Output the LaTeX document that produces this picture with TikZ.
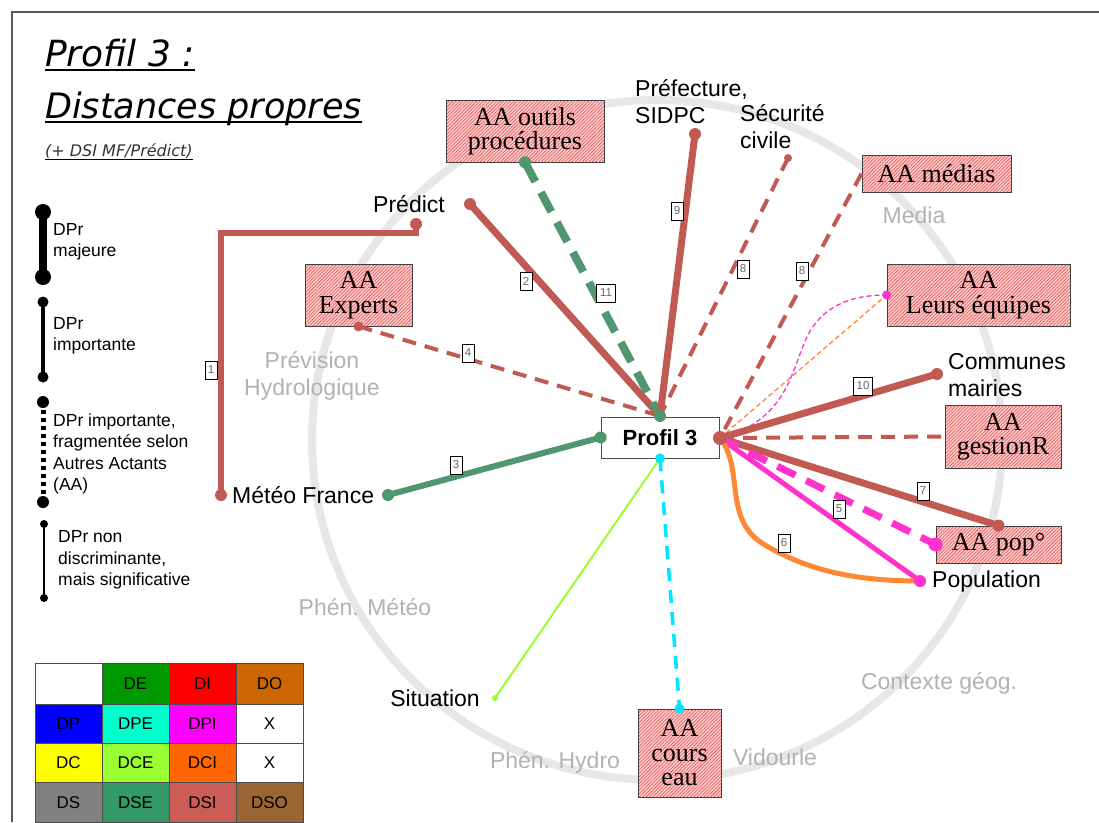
\documentclass[tikz,border=0pt]{standalone}
\usepackage{fontspec}
\setmainfont{Liberation Sans}
\newfontfamily\aaserif{Liberation Serif}
\newfontfamily\titlefont{DejaVu Sans}
\usetikzlibrary{patterns.meta}
\definecolor{dsi}{RGB}{193,90,83}
\definecolor{dse}{RGB}{80,150,110}
\definecolor{pinkl}{RGB}{255,51,204}
\definecolor{orangel}{RGB}{255,136,51}
\definecolor{cyanl}{RGB}{0,230,255}
\definecolor{ygl}{RGB}{153,255,51}
\definecolor{ring}{RGB}{231,231,231}
\definecolor{graytxt}{RGB}{178,178,178}
\definecolor{hatchbg}{RGB}{255,205,205}
\definecolor{hatchln}{RGB}{225,70,70}
\definecolor{cDE}{RGB}{0,153,0}
\definecolor{cDI}{RGB}{255,0,0}
\definecolor{cDO}{RGB}{204,102,0}
\definecolor{cDP}{RGB}{0,0,255}
\definecolor{cDPE}{RGB}{0,255,204}
\definecolor{cDPI}{RGB}{255,0,255}
\definecolor{cDC}{RGB}{255,255,0}
\definecolor{cDCE}{RGB}{153,255,51}
\definecolor{cDCI}{RGB}{255,102,0}
\definecolor{cDS}{RGB}{128,128,128}
\definecolor{cDSE}{RGB}{51,153,102}
\definecolor{cDSI}{RGB}{204,92,86}
\definecolor{cDSO}{RGB}{153,102,51}
\begin{document}
\begin{tikzpicture}[x=1pt,y=-1pt,
  hatch/.style={draw=black!75, line width=0.8, preaction={fill=hatchbg},
    pattern={Lines[angle=45,distance=2.4pt,line width=0.55pt]}, pattern color=hatchln,
    font={\aaserif\fontsize{26}{24.5}\selectfont}, align=center, inner sep=0},
  lbl/.style={font={\fontsize{23}{27}\selectfont}, inner sep=0, align=left},
  glbl/.style={font={\fontsize{23}{27}\selectfont}, inner sep=0, align=center, text=graytxt},
  leg/.style={font={\fontsize{17.5}{21.5}\selectfont}, inner sep=0, align=left, anchor=west},
  lab/.style={draw=black, line width=0.6, fill=white, font={\fontsize{11.5}{11.5}\selectfont},
    text=black!60, inner sep=1.5, minimum width=12, minimum height=18},
  cell/.style={draw=black!70, line width=1, minimum width=67, font={\fontsize{17}{17}\selectfont}, inner sep=0},
  sthick/.style={line width=7, line cap=round},
  sdash/.style={line width=4, dash pattern=on 14 off 9},
  tdash/.style={line width=1.3, dash pattern=on 5 off 3},
]
\useasboundingbox (0,0) rectangle (1099,822);
\fill[white] (0,0) rectangle (1099,822);
\draw[black!65, line width=1.5] (12,822) -- (12,12) -- (1099,12);

% ring
\draw[ring, line width=8] (657,440) ellipse [x radius=345, y radius=340];

% title
\node[anchor=base west, inner sep=0, font={\titlefont\itshape\fontsize{36}{36}\selectfont}] (t1) at (45,66) {Profil 3 :};
\node[anchor=base west, inner sep=0, font={\titlefont\itshape\fontsize{35}{35}\selectfont}] (t2) at (45,118) {Distances propres};
\node[anchor=base west, inner sep=0, font={\titlefont\itshape\fontsize{16}{16}\selectfont}, text=black!80] (t3) at (45,156) {(+ DSI MF/Prédict)};
\draw[line width=1.6] ([yshift=-4pt]t1.base west) -- ([yshift=-4pt]t1.base east);
\draw[line width=1.6] ([yshift=-4pt]t2.base west) -- ([yshift=-4pt]t2.base east);
\draw[line width=0.8] ([yshift=-3pt]t3.base west) -- ([yshift=-3pt]t3.base east);

% legend
\coordinate (lm1) at (43,212); \coordinate (lm2) at (43,277);
\coordinate (li1) at (43,302); \coordinate (li2) at (43,377);
\coordinate (lf1) at (43,402); \coordinate (lf2) at (43,502);
\coordinate (ln1) at (44,524); \coordinate (ln2) at (44,598);
\draw[line width=8] (lm1) -- (lm2);
\fill (lm1) circle[radius=8]; \fill (lm2) circle[radius=8];
\draw[line width=4] (li1) -- (li2);
\fill (li1) circle[radius=5.5]; \fill (li2) circle[radius=5.5];
\draw[line width=5, dash pattern=on 4 off 4] (lf1) -- (lf2);
\fill (lf1) circle[radius=6]; \fill (lf2) circle[radius=6];
\draw[line width=2.5] (ln1) -- (ln2);
\fill (ln1) circle[radius=4]; \fill (ln2) circle[radius=4];
\node[leg] (legm) at (53,242) {DPr\\majeure};
\node[leg] (legi) at (53,336) {DPr\\importante};
\node[leg] (legf) at (53,454) {DPr importante,\\fragmentée selon\\Autres Actants\\(AA)};
\node[leg] (legn) at (58,560) {DPr non\\discriminante,\\mais significative};

% table
\node[cell, fill=white, minimum height=41] (c11) at (68.5,683.5) {};
\node[cell, fill=cDE, minimum height=41] (c12) at (135.5,683.5) {DE};
\node[cell, fill=cDI, minimum height=41] (c13) at (202.5,683.5) {DI};
\node[cell, fill=cDO, minimum height=41] (c14) at (269.5,683.5) {DO};
\node[cell, fill=cDP, minimum height=39] (c21) at (68.5,723.5) {DP};
\node[cell, fill=cDPE, minimum height=39] (c22) at (135.5,723.5) {DPE};
\node[cell, fill=cDPI, minimum height=39] (c23) at (202.5,723.5) {DPI};
\node[cell, fill=white, minimum height=39] (c24) at (269.5,723.5) {X};
\node[cell, fill=cDC, minimum height=39.5] (c31) at (68.5,762.75) {DC};
\node[cell, fill=cDCE, minimum height=39.5] (c32) at (135.5,762.75) {DCE};
\node[cell, fill=cDCI, minimum height=39.5] (c33) at (202.5,762.75) {DCI};
\node[cell, fill=white, minimum height=39.5] (c34) at (269.5,762.75) {X};
\node[cell, fill=cDS, minimum height=39.5] (c41) at (68.5,802.25) {DS};
\node[cell, fill=cDSE, minimum height=39.5] (c42) at (135.5,802.25) {DSE};
\node[cell, fill=cDSI, minimum height=39.5] (c43) at (202.5,802.25) {DSI};
\node[cell, fill=cDSO, minimum height=39.5] (c44) at (269.5,802.25) {DSO};

% gray sector labels
\node[glbl] (gmedia) at (914,215) {Media};
\node[glbl] (gprev) at (312,376) {Prévision\\Hydrologique};
\node[glbl] (gmeteo) at (365,607) {Phén. Météo};
\node[glbl] (ghydro) at (555,762) {Phén. Hydro};
\node[glbl] (gvid) at (775,757) {Vidourle};
\node[glbl] (gctx) at (939,683) {Contexte géog.};

% black labels
\node[lbl, anchor=west] (prefecture) at (635,102) {Préfecture,\\SIDPC};
\node[lbl, anchor=west] (securite) at (740,127) {Sécurité\\civile};
\node[lbl] (predict) at (409,204) {Prédict};
\node[lbl, anchor=west] (communes) at (948,375) {Communes\\mairies};
\node[lbl, anchor=west] (population) at (932,582) {Population};
\node[lbl, anchor=west] (meteofr) at (232,495) {Météo France};
\node[lbl] (situation) at (435,698) {Situation};

% hatched AA boxes
\node[hatch, minimum width=158, minimum height=62] (outils) at (525,131) {AA outils\\procédures};
\node[hatch, minimum width=149, minimum height=37] (medias) at (936.5,173.5) {AA médias};
\node[hatch, minimum width=183, minimum height=62] (equipes) at (978.5,295) {AA\\Leurs équipes};
\node[hatch, minimum width=107, minimum height=62] (experts) at (358.5,295) {AA\\Experts};
\node[hatch, minimum width=116, minimum height=63] (gestion) at (1003,436.5) {AA\\gestionR};
\node[hatch, minimum width=125, minimum height=37] (pop) at (998.5,544.5) {AA pop°};
\node[hatch, minimum width=83, minimum height=88] (cours) at (679.5,753) {AA\\cours\\eau};

% central node
\node[draw=black!70, line width=0.8, fill=white, minimum width=118, minimum height=41,
  inner sep=0, font={\bfseries\fontsize{22}{22}\selectfont}] (p3) at (660,437.5) {Profil 3};

% end points
\coordinate (pr1) at (416,224);
\coordinate (e1a) at (221,233);
\coordinate (e1b) at (416,233);
\coordinate (mf1) at (221,495);
\coordinate (mf2) at (388,495);
\coordinate (pr2) at (470,204);
\coordinate (sidpc) at (695,134);
\coordinate (secu) at (788,158);
\coordinate (comm) at (937,374);
\coordinate (popu) at (920,581);
\coordinate (situ) at (495,698);
\coordinate (p3top) at (660,416);
\coordinate (p3right) at (720,438);

% edges
\draw[dsi, line width=6] (mf1) -- (e1a) -- (e1b) -- (pr1);
\draw[dsi, sthick] (pr2) -- (p3top);
\draw[dse, line width=8, dash pattern=on 22 off 12] (outils.south) -- (p3top);
\draw[dsi, sthick] (sidpc) -- (p3top);
\draw[dsi, sdash] (secu) -- (p3top);
\draw[dsi, sdash] (medias.west) -- (p3right);
\draw[dsi, sdash] (experts.south) -- (p3top);
\draw[dse, line width=6] (mf2) -- (p3.west);
\draw[orangel, tdash] (p3right) -- (equipes.west);
\draw[pinkl, tdash] (p3right) .. controls (790,420) and (792,365) .. (808,335) .. controls (825,302) and (858,295) .. (equipes.west);
\draw[dsi, sthick] (p3right) -- (comm);
\draw[dsi, sdash] (p3right) -- (gestion.west);
\draw[dsi, sthick] (p3right) -- (pop.north);
\draw[pinkl, line width=7, dash pattern=on 20 off 12] (p3right) -- (pop.west);
\draw[pinkl, line width=5] (p3right) -- (popu);
\draw[orangel, line width=5] (p3right) .. controls (745,470) and (722,520) .. (765,545) .. controls (810,572) and (860,581) .. (popu);
\draw[cyanl, line width=3.5, dash pattern=on 13 off 9] (p3.south) -- (cours.north);
\draw[ygl, line width=2] (p3.south) -- (situ);

% dots
\fill[dsi] (mf1) circle[radius=6];
\fill[dsi] (pr1) circle[radius=6];
\fill[dsi] (pr2) circle[radius=6];
\fill[dsi] (sidpc) circle[radius=6];
\fill[dsi] (secu) circle[radius=4];
\fill[dsi] (experts.south) circle[radius=5];
\fill[dse] (outils.south) circle[radius=6];
\fill[dse] (mf2) circle[radius=6];
\fill[dse] (p3.west) circle[radius=6];
\fill[dse] (p3top) circle[radius=6];
\fill[dsi] (p3right) circle[radius=7];
\fill[cyanl] (p3.south) circle[radius=5];
\fill[pinkl] (equipes.west) circle[radius=4.5];
\fill[dsi] (comm) circle[radius=6];
\fill[dsi] (pop.north) circle[radius=6];
\fill[pinkl] (pop.west) circle[radius=7];
\fill[pinkl] (popu) circle[radius=6];
\fill[cyanl] (cours.north) circle[radius=5];
\fill[ygl] (situ) circle[radius=3];

% edge labels
\node[lab] (l1) at (211,370) {1};
\node[lab] (l2) at (526,281) {2};
\node[lab, minimum width=19] (l11) at (606,293) {11};
\node[lab] (l9) at (677,211) {9};
\node[lab] (l8a) at (743,269) {8};
\node[lab] (l8b) at (802,271) {8};
\node[lab] (l4) at (468,353) {4};
\node[lab] (l3) at (456,465) {3};
\node[lab, minimum width=19] (l10) at (863,386) {10};
\node[lab] (l7) at (923,491) {7};
\node[lab] (l5) at (839,509) {5};
\node[lab] (l6) at (784,543) {6};
\end{tikzpicture}
\end{document}
